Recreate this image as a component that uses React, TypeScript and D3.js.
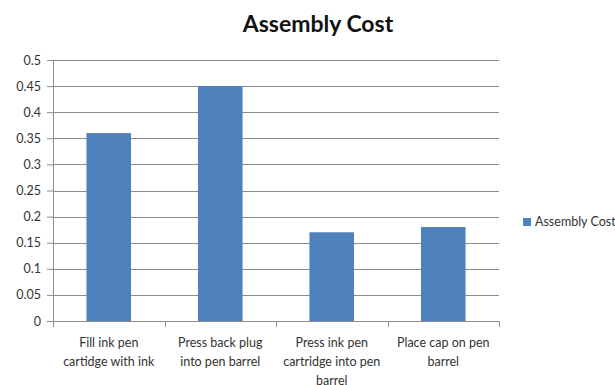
import React, { useEffect, useRef } from 'react';
import * as d3 from 'd3';

const categories = [
  'Fill ink pen cartidge with ink',
  'Press back plug into pen barrel',
  'Press ink pen cartridge into pen barrel',
  'Place cap on pen barrel',
];
const seriesName = 'Assembly Cost';
const values = [0.36, 0.45, 0.17, 0.18];
const yTicks = [0, 0.05, 0.1, 0.15, 0.2, 0.25, 0.3, 0.35, 0.4, 0.45, 0.5];

const FONT = 'Lato, "Open Sans", sans-serif';

const App = () => {
  const ref = useRef<SVGSVGElement>(null);

  useEffect(() => {
    const svg = d3.select(ref.current);
    svg.selectAll('*').remove();

    const width = 615;
    const height = 385;
    const margin = { top: 60, right: 116, bottom: 64, left: 53 };
    const w = width - margin.left - margin.right;
    const h = height - margin.top - margin.bottom;

    svg.attr('width', width).attr('height', height);

    svg.append('text')
      .attr('x', 318)
      .attr('y', 32)
      .attr('text-anchor', 'middle')
      .style('font-family', FONT)
      .style('font-size', '23px')
      .style('font-weight', 'bold')
      .style('fill', '#111')
      .text('Assembly Cost');

    const g = svg.append('g').attr('transform', `translate(${margin.left},${margin.top})`);

    const x = d3.scaleBand().domain(categories).range([0, w]).paddingInner(0.6).paddingOuter(0.3);
    const xb = d3.scaleBand().domain(categories).range([0, w]);
    const y = d3.scaleLinear().domain([0, 0.5]).range([h, 0]);

    // gridlines
    g.selectAll('.grid')
      .data(yTicks.filter(d => d > 0))
      .enter()
      .append('line')
      .attr('x1', 0)
      .attr('x2', w)
      .attr('y1', d => Math.round(y(d)) + 0.5)
      .attr('y2', d => Math.round(y(d)) + 0.5)
      .style('stroke', '#8c8c8c')
      .style('stroke-width', 1);

    // bars
    g.selectAll('.bar')
      .data(values)
      .enter()
      .append('rect')
      .attr('x', (d, i) => x(categories[i]) as number)
      .attr('width', x.bandwidth())
      .attr('y', d => y(d))
      .attr('height', d => h - y(d))
      .style('fill', '#4f81bd');

    // y axis
    const yAxis = g.append('g')
      .call(d3.axisLeft(y).tickValues(yTicks).tickSize(6).tickPadding(6).tickFormat(d => String(+d)));
    yAxis.select('.domain').style('stroke', '#8c8c8c');
    yAxis.selectAll('line').style('stroke', '#8c8c8c');
    yAxis.selectAll('text')
      .style('font-family', FONT)
      .style('font-size', '12.5px')
      .style('fill', '#333');

    // x axis
    const xAxisG = g.append('g').attr('transform', `translate(0,${h})`);
    xAxisG.append('line')
      .attr('x1', 0).attr('x2', w)
      .attr('y1', 0.5).attr('y2', 0.5)
      .style('stroke', '#8c8c8c');
    const bounds = [...categories.map(c => xb(c) as number), w];
    xAxisG.selectAll('.xt')
      .data(bounds)
      .enter()
      .append('line')
      .attr('x1', d => Math.round(d) + 0.5)
      .attr('x2', d => Math.round(d) + 0.5)
      .attr('y1', 0)
      .attr('y2', 6)
      .style('stroke', '#8c8c8c');

    const labels = xAxisG.selectAll('.xl')
      .data(categories)
      .enter()
      .append('text')
      .attr('text-anchor', 'middle')
      .attr('transform', d => `translate(${(xb(d) as number) + xb.bandwidth() / 2},26)`)
      .style('font-family', FONT)
      .style('font-size', '12.5px')
      .style('fill', '#333');

    // wrap labels
    labels.each(function (d) {
      const text = d3.select(this);
      const words = d.split(' ');
      const maxW = 100;
      let line: string[] = [];
      let tspan = text.append('tspan').attr('x', 0).attr('dy', 0);
      words.forEach(word => {
        line.push(word);
        tspan.text(line.join(' '));
        const node = tspan.node() as SVGTSpanElement;
        if (node.getComputedTextLength() > maxW && line.length > 1) {
          line.pop();
          tspan.text(line.join(' '));
          line = [word];
          tspan = text.append('tspan').attr('x', 0).attr('dy', '19px').text(word);
        }
      });
    });

    // legend
    const legend = svg.append('g').attr('transform', 'translate(523,218)');
    legend.append('rect')
      .attr('width', 8)
      .attr('height', 8)
      .style('fill', '#4f81bd');
    legend.append('text')
      .attr('x', 12)
      .attr('y', 8)
      .style('font-family', FONT)
      .style('font-size', '12.5px')
      .style('fill', '#333')
      .text(seriesName);
  }, []);

  return (
    <svg ref={ref} style={{ position: 'absolute', left: 0, top: 0, display: 'block', background: '#fff' }}></svg>
  );
};

export default App;
